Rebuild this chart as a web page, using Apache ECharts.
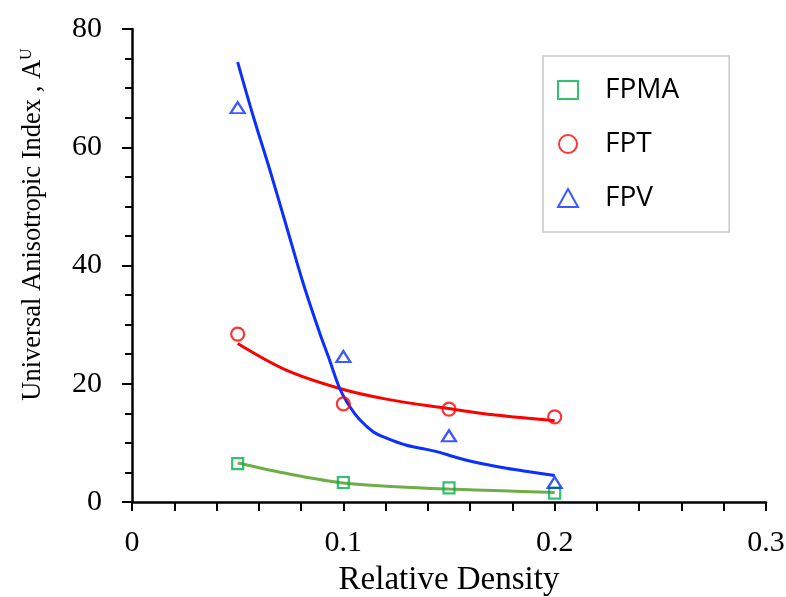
<!DOCTYPE html>
<html><head><meta charset="utf-8">
<script src="https://cdn.jsdelivr.net/npm/echarts@6/dist/echarts.min.js"></script>
<style>html,body{margin:0;padding:0;background:#fff}#c{width:786px;height:597px}</style>
</head><body><div id="c"></div>
<script>
// measured markers
const fpma = [[0.05, 6.5], [0.1, 3.3], [0.15, 2.4], [0.2, 1.5]];
const fpt  = [[0.05, 28.4], [0.1, 16.6], [0.15, 15.7], [0.2, 14.4]];
const fpv  = [[0.05, 66.7], [0.1, 24.6], [0.15, 11.2], [0.2, 3.3]];
// trend curves
const fpmaCurve = [[0.05, 6.6], [0.075, 4.7], [0.1, 3.2], [0.125, 2.6], [0.15, 2.2], [0.175, 1.9], [0.2, 1.6]];
const fptCurve  = [[0.05, 26.8], [0.073, 22.3], [0.0983, 19.2], [0.1204, 17.4], [0.1488, 15.85],
                   [0.172, 14.7], [0.2, 13.75]];
const fpvCurve  = [[0.05, 74.4], [0.0574, 65.2], [0.0652, 56.2], [0.0731, 46.6], [0.081, 37.0], [0.0889, 28.5],
                   [0.0936, 23.9], [0.0983, 19.2], [0.1031, 16.1], [0.1078, 13.9], [0.1141, 11.9], [0.1204, 10.8],
                   [0.1299, 9.6], [0.1393, 8.9], [0.1456, 8.4], [0.1519, 7.7], [0.1614, 6.8], [0.1772, 5.7],
                   [0.188, 5.1], [0.2, 4.5]];
const xTicks = ['0', '0.1', '0.2', '0.3'];
const yTicks = ['0', '20', '40', '60', '80'];
const seriesNames = ['FPMA', 'FPT', 'FPV'];

const serif = '"Liberation Serif", "Times New Roman", serif';
const chart = echarts.init(document.getElementById('c'));
const axisCommon = {
  axisLine: {onZero: false, lineStyle: {color: '#000', width: 2.5}},
  splitLine: {show: false},
  axisLabel: {color: '#000', fontFamily: serif, fontSize: 30},
  nameTextStyle: {color: '#000', fontFamily: serif, fontSize: 33}
};
chart.setOption({
  animation: false,
  grid: {left: 132, right: 20, top: 29, bottom: 95, containLabel: false, outerBoundsMode: 'none'},
  xAxis: Object.assign({}, axisCommon, {
    type: 'value', min: 0, max: 0.3, interval: 0.1,
    name: 'Relative Density', nameLocation: 'middle', nameGap: 62,
    axisTick: {show: true, inside: false, length: 9, lineStyle: {color: '#000', width: 2}},
    minorTick: {show: true, splitNumber: 5, length: 9, lineStyle: {color: '#000', width: 2}},
    axisLabel: Object.assign({}, axisCommon.axisLabel, {margin: 26, formatter: v => xTicks[Math.round(v * 10)]})
  }),
  yAxis: Object.assign({}, axisCommon, {
    type: 'value', min: 0, max: 80, interval: 20,
    name: 'Universal Anisotropic Index , A{sup|U}', nameLocation: 'middle', nameGap: 85,
    nameTextStyle: Object.assign({}, axisCommon.nameTextStyle, {
      fontSize: 26.5,
      padding: [0, 0, 0, 82],
      rich: {sup: {fontFamily: serif, fontSize: 16, color: '#000', verticalAlign: 'top', padding: [0, 0, 12, 0]}}
    }),
    axisTick: {show: true, inside: false, length: 10, lineStyle: {color: '#000', width: 2}},
    minorTick: {show: true, splitNumber: 4, length: 7, lineStyle: {color: '#000', width: 2}},
    axisLabel: Object.assign({}, axisCommon.axisLabel, {margin: 30, formatter: v => yTicks[Math.round(v / 20)]})
  }),
  legend: {
    orient: 'vertical', left: 543, top: 56,
    padding: [20, 50, 20, 14], itemGap: 26,
    borderColor: '#c8c8c8', borderWidth: 1.5,
    itemWidth: 20, itemHeight: 18,
    textStyle: {fontFamily: '"Open Sans", "Noto Sans", sans-serif', fontSize: 28, color: '#000', padding: [0, 0, 0, 22]},
    data: [
      {name: seriesNames[0], icon: 'rect'},
      {name: seriesNames[1], icon: 'circle'},
      {name: seriesNames[2], icon: 'triangle'}
    ]
  },
  series: [
    {type: 'line', data: fpmaCurve, smooth: 0.35, showSymbol: false, lineStyle: {color: '#70AD47', width: 3}, z: 2, silent: true},
    {type: 'line', data: fptCurve, smooth: 0.35, showSymbol: false, lineStyle: {color: '#FF0000', width: 3}, z: 2, silent: true},
    {type: 'line', data: fpvCurve, smooth: 0.35, showSymbol: false, lineStyle: {color: '#0A2FFF', width: 3}, z: 2, silent: true},
    {name: seriesNames[0], type: 'scatter', data: fpma, symbol: 'rect', symbolSize: 11,
     itemStyle: {color: 'rgba(255,255,255,0)', borderColor: '#00B050', borderWidth: 2.2}, z: 3},
    {name: seriesNames[1], type: 'scatter', data: fpt, symbol: 'circle', symbolSize: 13,
     itemStyle: {color: 'rgba(255,255,255,0)', borderColor: '#FF0000', borderWidth: 2.2}, z: 3},
    {name: seriesNames[2], type: 'scatter', data: fpv, symbol: 'triangle', symbolSize: [14, 11],
     itemStyle: {color: 'rgba(255,255,255,0)', borderColor: '#0A2FFF', borderWidth: 2.2}, z: 3}
  ]
});
</script></body></html>
